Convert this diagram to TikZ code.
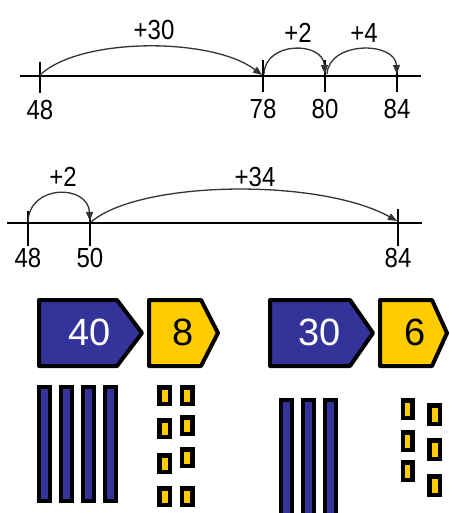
\documentclass[tikz,border=0pt]{standalone}
\usepackage{fontspec}
\setmainfont{Liberation Sans}
\usetikzlibrary{arrows.meta}
\definecolor{navy}{HTML}{333399}
\definecolor{gold}{HTML}{FFCC00}
\begin{document}
\begin{tikzpicture}[x=1pt,y=-1pt,
  axis/.style={line width=1.4pt,black},
  tickmark/.style={line width=1.3pt,black},
  jump/.style={line width=1.3pt,draw=black!80,-{Triangle[length=9pt,width=7pt]}},
  numlab/.style={font=\fontsize{24}{24}\selectfont,inner sep=0pt,text=black},
  tag/.style={draw=black,line width=4pt,line join=round},
  tens/.style={fill=navy,draw=black,line width=4pt},
  ones/.style={fill=gold,draw=black,line width=4.5pt},
  bignum/.style={font=\fontsize{38}{38}\selectfont,inner sep=0pt}]
\useasboundingbox (0,0) rectangle (449,513);
\clip (0,0) rectangle (449,513);

% ---------- first number line ----------
\coordinate (L1s) at (20,76);
\coordinate (L1e) at (421,76);
\draw[axis] (L1s) -- (L1e);
\draw[tickmark] (40,62) -- (40,93);
\draw[tickmark] (263,60) -- (263,92);
\draw[tickmark] (325,60) -- (325,92);
\draw[tickmark] (397,65) -- (397,92);
\node[numlab] (n48a) at (40,110) {\scalebox{1}[1.15]{48}};
\node[numlab] (n78) at (263,109) {\scalebox{1}[1.15]{78}};
\node[numlab] (n80) at (325,109) {\scalebox{1}[1.15]{80}};
\node[numlab] (n84a) at (397,109) {\scalebox{1}[1.15]{84}};
\draw[jump] (40,75) .. controls (80,37) and (212,37) .. (262,75);
\draw[jump] (264,74) .. controls (265,41) and (323,41) .. (325,74);
\draw[jump] (327,74) .. controls (329,41) and (395,41) .. (397,74);
\node[numlab] (j30) at (154,30) {\scalebox{1}[1.15]{+30}};
\node[numlab] (j2a) at (298,33) {\scalebox{1}[1.15]{+2}};
\node[numlab] (j4) at (364,33) {\scalebox{1}[1.15]{+4}};

% ---------- second number line ----------
\coordinate (L2s) at (7,223);
\coordinate (L2e) at (422,223);
\draw[axis] (L2s) -- (L2e);
\draw[tickmark] (28,211) -- (28,246);
\draw[tickmark] (90,212) -- (90,246);
\draw[tickmark] (398,209) -- (398,246);
\node[numlab] (n48b) at (28,258) {\scalebox{1}[1.15]{48}};
\node[numlab] (n50) at (90,258) {\scalebox{1}[1.15]{50}};
\node[numlab] (n84b) at (398,258) {\scalebox{1}[1.15]{84}};
\draw[jump] (28,222) .. controls (29,184) and (88,184) .. (90,221);
\draw[jump] (91,222) .. controls (140,180) and (320,178) .. (397,221);
\node[numlab] (j2b) at (63,177) {\scalebox{1}[1.15]{+2}};
\node[numlab] (j34) at (255,177) {\scalebox{1}[1.15]{+34}};

% ---------- arrow cards ----------
\draw[tag,fill=navy] (39,300) -- (117,300) -- (142,333) -- (117,366) -- (39,366) -- cycle;
\node[bignum,text=white] (c40) at (90,332) {40};
\draw[tag,fill=gold] (149,300) -- (201,300) -- (218,333) -- (201,366) -- (149,366) -- cycle;
\node[bignum,text=black] (c8) at (183,332) {8};
\draw[tag,fill=navy] (270,300) -- (350,300) -- (373,333) -- (350,366) -- (270,366) -- cycle;
\node[bignum,text=white] (c30) at (320,332) {30};
\draw[tag,fill=gold] (380,300) -- (432,300) -- (447,333) -- (432,366) -- (380,366) -- cycle;
\node[bignum,text=black] (c6) at (415,332) {6};

% ---------- base-ten blocks ----------
\foreach \x in {39,60.5,83,105}
  \draw[tens] (\x,387) rectangle ++(11,114);
\foreach \x in {281,303,325}
  \draw[tens] (\x,400) rectangle ++(11,130);

% ones for 8
\foreach \y in {385,418,453,486}
  \draw[ones] (159.5,\y+2.25) rectangle ++(10.5,16.5);
\foreach \y in {385,415,447,486}
  \draw[ones] (182,\y+2.25) rectangle ++(10.5,16.5);
% ones for 6
\foreach \y in {398,430,460}
  \draw[ones] (402.75,\y+2.25) rectangle ++(9.5,17.5);
\foreach \y in {403,438,474}
  \draw[ones] (429.25,\y+2.25) rectangle ++(10.5,18.5);
\end{tikzpicture}
\end{document}
